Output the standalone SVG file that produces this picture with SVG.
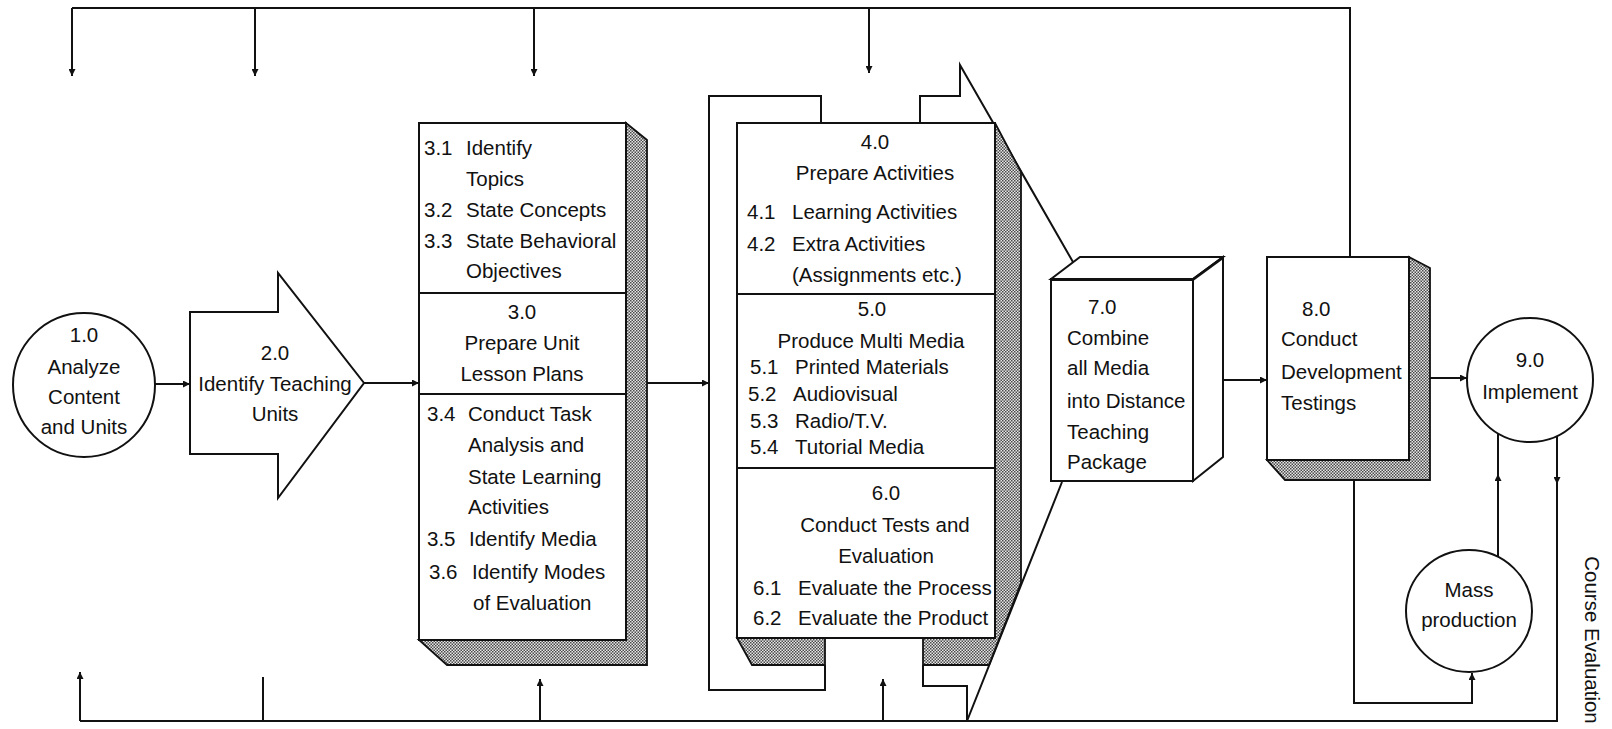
<svg xmlns="http://www.w3.org/2000/svg" width="1612" height="729" viewBox="0 0 1612 729">
<style>
.t{font-family:"Liberation Sans",Arial,sans-serif;font-size:20.5px;fill:#111}
.c{text-anchor:middle}
.o{fill:#fff;stroke:#111;stroke-width:2;stroke-linejoin:miter}
.s{fill:url(#dots);stroke:#111;stroke-width:1.8}
.ln{fill:none;stroke:#111;stroke-width:2}
.ar{fill:none;stroke:#111;stroke-width:2;marker-end:url(#ah)}
</style>
<defs>
<pattern id="dots" width="3" height="3" patternUnits="userSpaceOnUse">
<rect width="3" height="3" fill="#e6e6e6"/>
<rect width="1.5" height="1.5" fill="#4a4a4a"/>
<rect x="1.5" y="1.5" width="1.5" height="1.5" fill="#4a4a4a"/>
</pattern>
<marker id="ah" viewBox="0 0 10 10" refX="10" refY="5" markerWidth="9" markerHeight="7" markerUnits="userSpaceOnUse" orient="auto">
<path d="M0,0 L10,5 L0,10 z" fill="#111"/>
</marker>
</defs>
<rect width="1612" height="729" fill="#fff"/>

<g id="connectors">
<polyline class="ln" points="72,8 1350,8 1350,257"/>
<line class="ar" x1="72" y1="8" x2="72" y2="76"/>
<line class="ar" x1="255" y1="8" x2="255" y2="76"/>
<line class="ar" x1="534" y1="8" x2="534" y2="76"/>
<line class="ar" x1="869" y1="8" x2="869" y2="73"/>
<polyline class="ln" points="1557,482 1557,721 80,721"/>
<line class="ar" x1="1557" y1="436" x2="1557" y2="484"/>
<line class="ar" x1="80" y1="721" x2="80" y2="672"/>
<line class="ln" x1="263" y1="721" x2="263" y2="677"/>
<line class="ar" x1="540" y1="721" x2="540" y2="679"/>
<line class="ar" x1="883" y1="721" x2="883" y2="679"/>
<line class="ar" x1="155" y1="384" x2="190" y2="384"/>
<line class="ar" x1="364" y1="383" x2="419" y2="383"/>
<line class="ar" x1="647" y1="383" x2="709" y2="383"/>
<line class="ar" x1="1223" y1="380" x2="1267" y2="380"/>
<line class="ar" x1="1430" y1="378" x2="1467" y2="378"/>
<polyline class="ar" points="1354,480 1354,703 1472,703 1472,673"/>
<line class="ar" x1="1498" y1="557" x2="1498" y2="474"/>
<line class="ln" x1="1498" y1="476" x2="1498" y2="433"/>
<text class="t c" transform="translate(1585,640) rotate(90)">Course Evaluation</text>
</g>

<g id="n1">
<ellipse class="o" cx="84" cy="385" rx="71" ry="72"/>
<text class="t c" x="84" y="342">1.0</text>
<text class="t c" x="84" y="374">Analyze</text>
<text class="t c" x="84" y="404">Content</text>
<text class="t c" x="84" y="434">and Units</text>
</g>

<g id="n2">
<polygon class="o" points="190,312 278,312 278,273 364,383 278,498 278,454 190,454"/>
<text class="t c" x="275" y="360">2.0</text>
<text class="t c" x="275" y="391">Identify Teaching</text>
<text class="t c" x="275" y="421">Units</text>
</g>

<g id="n3">
<polygon class="s" points="626,123 647,140 647,665 447,665 419,640 626,640"/>
<rect class="o" x="419" y="123" width="207" height="517"/>
<line class="ln" x1="419" y1="293" x2="626" y2="293"/>
<line class="ln" x1="419" y1="394" x2="626" y2="394"/>
<text class="t" x="424" y="155">3.1</text><text class="t" x="466" y="155">Identify</text>
<text class="t" x="466" y="186">Topics</text>
<text class="t" x="424" y="217">3.2</text><text class="t" x="466" y="217">State Concepts</text>
<text class="t" x="424" y="248">3.3</text><text class="t" x="466" y="248">State Behavioral</text>
<text class="t" x="466" y="278">Objectives</text>
<text class="t c" x="522" y="319">3.0</text>
<text class="t c" x="522" y="350">Prepare Unit</text>
<text class="t c" x="522" y="381">Lesson Plans</text>
<text class="t" x="427" y="421">3.4</text><text class="t" x="468" y="421">Conduct Task</text>
<text class="t" x="468" y="452">Analysis and</text>
<text class="t" x="468" y="484">State Learning</text>
<text class="t" x="468" y="514">Activities</text>
<text class="t" x="427" y="546">3.5</text><text class="t" x="469" y="546">Identify Media</text>
<text class="t" x="429" y="579">3.6</text><text class="t" x="472" y="579">Identify Modes</text>
<text class="t" x="473" y="610">of Evaluation</text>
</g>

<g id="n4">
<polyline class="ln" points="821,123 821,96 709,96 709,690 825,690 825,665"/>
<polyline class="ln" points="920,123 920,96 960,96 960,65 1073,262"/>
<polyline class="ln" points="923,665 923,686 967,686 967,721 1062,482"/>
<polygon class="s" points="737,638 825,638 825,665 752,665"/>
<polygon class="s" points="995,123 1021,172 1021,583 989,665 923,665 923,638 995,638"/>
<rect class="o" x="737" y="123" width="258" height="515"/>
<line class="ln" x1="737" y1="294" x2="995" y2="294"/>
<line class="ln" x1="737" y1="468" x2="995" y2="468"/>
<text class="t c" x="875" y="149">4.0</text>
<text class="t c" x="875" y="180">Prepare Activities</text>
<text class="t" x="747" y="219">4.1</text><text class="t" x="792" y="219">Learning Activities</text>
<text class="t" x="747" y="251">4.2</text><text class="t" x="792" y="251">Extra Activities</text>
<text class="t" x="792" y="282">(Assignments etc.)</text>
<text class="t c" x="872" y="316">5.0</text>
<text class="t c" x="871" y="348">Produce Multi Media</text>
<text class="t" x="750" y="374">5.1</text><text class="t" x="795" y="374">Printed Materials</text>
<text class="t" x="748" y="401">5.2</text><text class="t" x="793" y="401">Audiovisual</text>
<text class="t" x="750" y="428">5.3</text><text class="t" x="795" y="428">Radio/T.V.</text>
<text class="t" x="750" y="454">5.4</text><text class="t" x="795" y="454">Tutorial Media</text>
<text class="t c" x="886" y="500">6.0</text>
<text class="t c" x="885" y="532">Conduct Tests and</text>
<text class="t c" x="886" y="563">Evaluation</text>
<text class="t" x="753" y="595">6.1</text><text class="t" x="798" y="595">Evaluate the Process</text>
<text class="t" x="753" y="625">6.2</text><text class="t" x="798" y="625">Evaluate the Product</text>
</g>

<g id="n7">
<polygon class="o" points="1051,279 1080,257 1223,257 1193,279"/>
<polygon class="o" points="1193,279 1223,257 1223,457 1193,481"/>
<rect class="o" x="1051" y="279" width="142" height="202"/>
<line class="ln" x1="1051" y1="280" x2="1193" y2="280" stroke-width="4"/>
<line class="ln" x1="1193" y1="280" x2="1223" y2="258" stroke-width="4"/>
<text class="t" x="1088" y="314">7.0</text>
<text class="t" x="1067" y="345">Combine</text>
<text class="t" x="1067" y="375">all Media</text>
<text class="t" x="1067" y="408">into Distance</text>
<text class="t" x="1067" y="439">Teaching</text>
<text class="t" x="1067" y="469">Package</text>
</g>

<g id="n8">
<polygon class="s" points="1409,257 1430,268 1430,480 1285,480 1267,460 1409,460"/>
<rect class="o" x="1267" y="257" width="142" height="203"/>
<text class="t" x="1302" y="316">8.0</text>
<text class="t" x="1281" y="346">Conduct</text>
<text class="t" x="1281" y="379">Development</text>
<text class="t" x="1281" y="410">Testings</text>
</g>

<g id="n9">
<ellipse class="o" cx="1530" cy="380" rx="63" ry="62"/>
<text class="t c" x="1530" y="367">9.0</text>
<text class="t c" x="1530" y="399">Implement</text>
</g>

<g id="mass">
<ellipse class="o" cx="1469" cy="611" rx="63" ry="61"/>
<text class="t c" x="1469" y="597">Mass</text>
<text class="t c" x="1469" y="627">production</text>
</g>
</svg>
